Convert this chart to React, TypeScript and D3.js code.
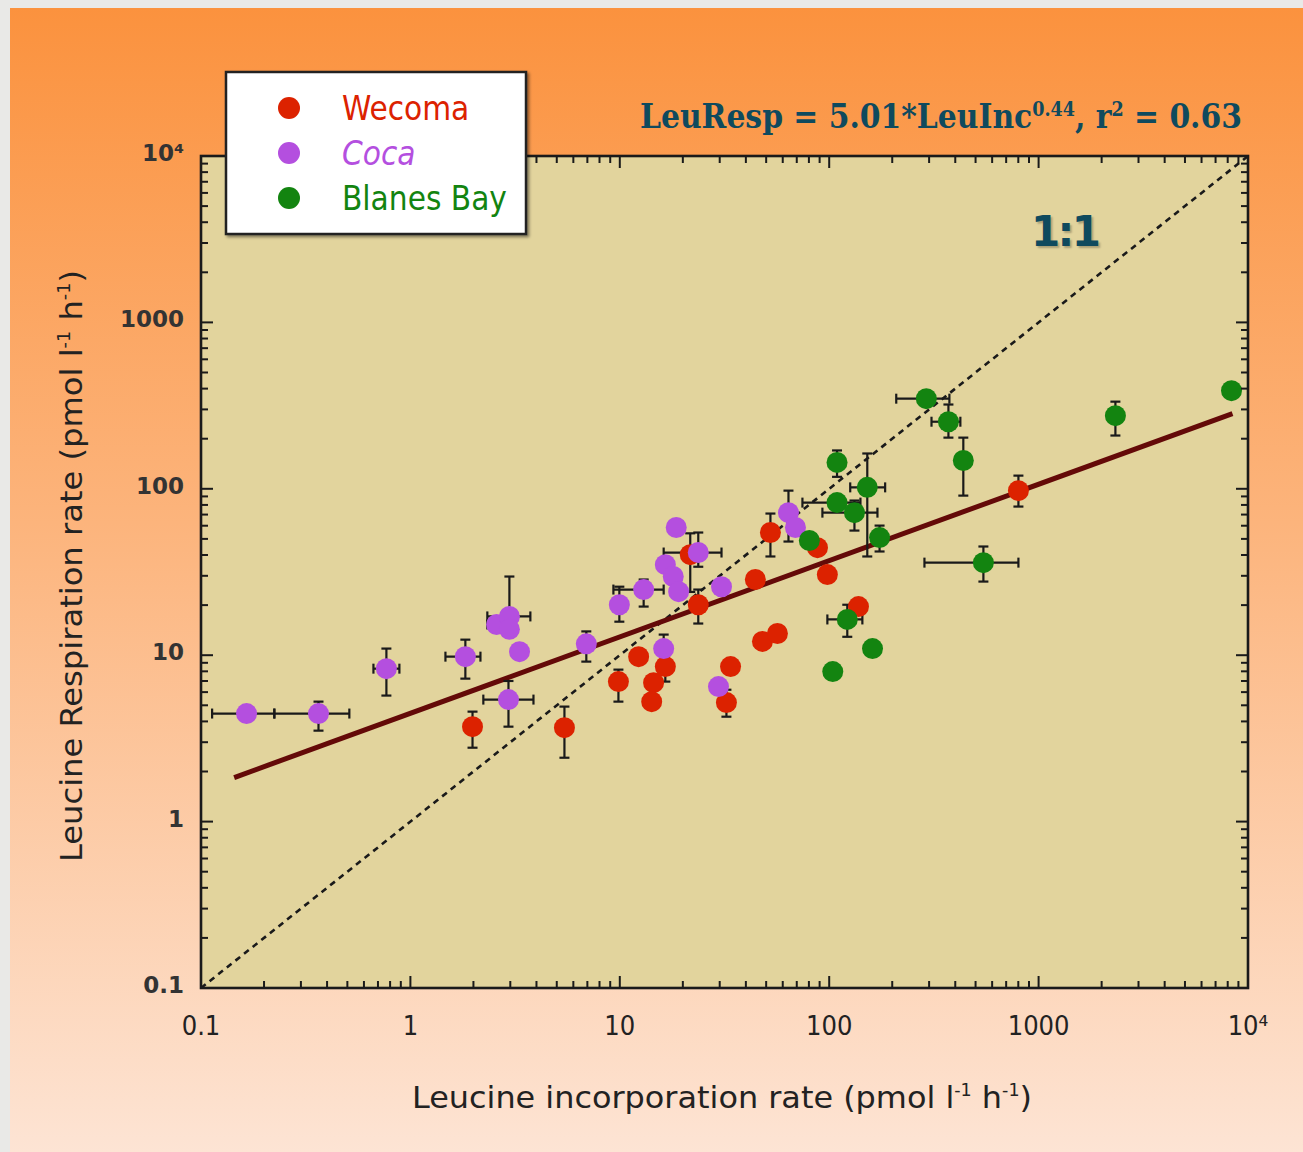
import React from "react";
import * as d3 from "d3";

// series: x = leucine incorporation, y = leucine respiration (pmol l-1 h-1)
// error bars: [lo, hi] or null
type Pt = { x: number; y: number; xe: number[] | null; ye: number[] | null };

const wecomaX = [1.98, 5.44, 9.85, 12.3, 14.5, 14.2, 16.5, 23.7, 21.7, 33.8, 32.3, 48.0, 56.6, 44.4, 52.4, 87.9, 98.0, 138, 801];
const wecomaY = [3.72, 3.67, 6.94, 9.8, 6.84, 5.26, 8.54, 20.1, 40.2, 8.54, 5.19, 12.1, 13.5, 28.5, 54.6, 44.3, 30.5, 19.6, 97.5];
const wecomaXErr = [null, null, null, null, null, null, null, null, null, null, null, null, null, null, null, null, null, null, null];
const wecomaYErr = [[2.78, 4.58], [2.42, 4.91], [5.26, 8.19], null, null, null, [6.94, 10], [15.5, 24.8], [24, 54], null, [4.27, 6.2], null, null, null, [39.2, 71.0], null, null, null, [78.2, 120]];

const cocaX = [0.165, 0.364, 0.768, 1.83, 2.58, 2.97, 2.97, 3.32, 2.94, 6.92, 9.95, 13.0, 18.6, 16.5, 18.0, 19.1, 23.7, 30.6, 16.2, 29.6, 63.9, 69.0];
const cocaY = [4.46, 4.46, 8.3, 9.8, 15.3, 17.1, 14.3, 10.5, 5.41, 11.7, 20.1, 24.8, 58.5, 35.0, 29.7, 24.1, 41.4, 25.8, 10.96, 6.48, 71.9, 58.5];
const cocaXErr = [[0.113, 0.224], [0.224, 0.511], [0.666, 0.886], [1.47, 2.16], [2.33, 2.8], [2.33, 3.74], null, null, [2.23, 3.87], null, null, [9.32, 16.2], null, null, null, null, [16.2, 30.6], null, null, null, null, null];
const cocaYErr = [null, [3.52, 5.26], [5.72, 10.96], [7.23, 12.4], null, [13, 29.7], null, null, [3.72, 7.0], [9.15, 13.9], [15.9, 25.8], [19.6, 28.5], null, null, null, null, [34, 54.6], null, [8.5, 13.3], null, [48.2, 97.5], null];

const blanesX = [291, 371, 437, 109, 152, 109, 132, 80.4, 174, 545, 122, 161, 104, 2327, 8340];
const blanesY = [348, 253, 148, 144, 102, 82.6, 71.9, 48.9, 50.9, 36.0, 16.4, 10.96, 7.97, 275, 389];
const blanesXErr = [[209, 375], [308, 423], null, null, [126, 185], [74.5, 141], [92.8, 170], null, null, [285, 801], [98, 144], null, null, null, null];
const blanesYErr = [null, [203, 321], [91, 203], [118, 170], [39.2, 163], null, [56.1, 85], null, [42.0, 60.1], [27.7, 45], [12.9, 20.1], null, null, [209, 334], null];

const seriesNames = ["Wecoma", "Coca", "Blanes Bay"];
const seriesColors = ["#dc2200", "#b44fdf", "#138410"];

// fitted power law, drawn between these ends
const fitX = [0.144, 8430];
const fitY = [1.84, 283];

const xTicks = [0.1, 1, 10, 100, 1000, 10000];
const xTickLabels = ["0.1", "1", "10", "100", "1000", "10⁴"];
const yTicks = [0.1, 1, 10, 100, 1000, 10000];
const yTickLabels = ["0.1", "1", "10", "100", "1000", "10⁴"];

const W = 1303, H = 1152;
const left = 201, right = 1248, top = 156, bottom = 988;

const build = (xs: number[], ys: number[], xe: any[], ye: any[]): Pt[] =>
  xs.map((x, i) => ({ x, y: ys[i], xe: xe[i], ye: ye[i] }));

const series = [
  build(wecomaX, wecomaY, wecomaXErr, wecomaYErr),
  build(cocaX, cocaY, cocaXErr, cocaYErr),
  build(blanesX, blanesY, blanesXErr, blanesYErr),
];

export default function App() {
  const x = d3.scaleLog().domain([0.1, 10000]).range([left, right]);
  const y = d3.scaleLog().domain([0.1, 10000]).range([bottom, top]);

  // minor ticks for each decade
  const minors: number[] = [];
  for (let d = 0.1; d < 10000; d *= 10) for (let k = 2; k <= 9; k++) minors.push(+(d * k).toPrecision(3));

  const cap = 5;
  const r = 10.5;
  const ink = "#1a1a1a";
  const title = "#0f4a5e";
  const cond = "'DejaVu Sans Condensed', 'DejaVu Sans', sans-serif";

  return (
    <svg width={W} height={H} style={{ position: "absolute", left: 0, top: 0 }}>
      <defs>
        <linearGradient id="bg" x1="0" y1="0" x2="0" y2="1">
          <stop offset="0%" stopColor="#fb923e" />
          <stop offset="45%" stopColor="#fcb47c" />
          <stop offset="100%" stopColor="#fde4d4" />
        </linearGradient>
        <filter id="sh" x="-10%" y="-10%" width="130%" height="130%">
          <feDropShadow dx="2" dy="2" stdDeviation="1.5" floodColor="#000" floodOpacity="0.45" />
        </filter>
      </defs>
      <rect width={W} height={H} fill="#e9e9e7" />
      <rect x={10} y={8} width={W - 10} height={H - 8} fill="url(#bg)" />

      {/* plot area */}
      <rect x={left} y={top} width={right - left} height={bottom - top} fill="#e2d49d" />

      {/* 1:1 line */}
      <line x1={x(0.1)} y1={y(0.1)} x2={x(10000)} y2={y(10000)} stroke={ink} strokeWidth={2.6} strokeDasharray="6 5" />

      {/* regression */}
      <line x1={x(fitX[0])} y1={y(fitY[0])} x2={x(fitX[1])} y2={y(fitY[1])} stroke="#640a08" strokeWidth={5} />

      {/* error bars */}
      {series.map((s, si) => (
        <g key={"e" + si} stroke={ink} strokeWidth={2.2}>
          {s.map((p, i) => (
            <g key={i}>
              {p.xe && (
                <>
                  <line x1={x(p.xe[0])} x2={x(p.xe[1])} y1={y(p.y)} y2={y(p.y)} />
                  <line x1={x(p.xe[0])} x2={x(p.xe[0])} y1={y(p.y) - cap} y2={y(p.y) + cap} />
                  <line x1={x(p.xe[1])} x2={x(p.xe[1])} y1={y(p.y) - cap} y2={y(p.y) + cap} />
                </>
              )}
              {p.ye && (
                <>
                  <line x1={x(p.x)} x2={x(p.x)} y1={y(p.ye[0])} y2={y(p.ye[1])} />
                  <line x1={x(p.x) - cap} x2={x(p.x) + cap} y1={y(p.ye[0])} y2={y(p.ye[0])} />
                  <line x1={x(p.x) - cap} x2={x(p.x) + cap} y1={y(p.ye[1])} y2={y(p.ye[1])} />
                </>
              )}
            </g>
          ))}
        </g>
      ))}

      {/* points */}
      {series.map((s, si) => (
        <g key={"p" + si} fill={seriesColors[si]}>
          {s.map((p, i) => (
            <circle key={i} cx={x(p.x)} cy={y(p.y)} r={r} />
          ))}
        </g>
      ))}

      {/* ticks on all four sides */}
      <g stroke={ink} strokeWidth={2}>
        {xTicks.map((t) => (
          <g key={"xt" + t}>
            <line x1={x(t)} x2={x(t)} y1={bottom} y2={bottom - 12} />
            <line x1={x(t)} x2={x(t)} y1={top} y2={top + 12} />
          </g>
        ))}
        {minors.map((t) => (
          <g key={"xm" + t}>
            <line x1={x(t)} x2={x(t)} y1={bottom} y2={bottom - 7} />
            <line x1={x(t)} x2={x(t)} y1={top} y2={top + 7} />
          </g>
        ))}
        {yTicks.map((t) => (
          <g key={"yt" + t}>
            <line x1={left} x2={left + 12} y1={y(t)} y2={y(t)} />
            <line x1={right} x2={right - 12} y1={y(t)} y2={y(t)} />
          </g>
        ))}
        {minors.map((t) => (
          <g key={"ym" + t}>
            <line x1={left} x2={left + 7} y1={y(t)} y2={y(t)} />
            <line x1={right} x2={right - 7} y1={y(t)} y2={y(t)} />
          </g>
        ))}
      </g>
      <rect x={left} y={top} width={right - left} height={bottom - top} fill="none" stroke={ink} strokeWidth={2.6} />

      {/* tick labels */}
      <g fontFamily={cond} fontSize={27} fill="#222">
        {xTicks.map((t, i) => (
          <text key={"xl" + t} x={x(t)} y={1035} textAnchor="middle">{xTickLabels[i]}</text>
        ))}
      </g>
      <g fontFamily="'DejaVu Sans', sans-serif" fontSize={23} fill="#333" fontWeight={600}>
        {yTicks.map((t, i) => (
          <text key={"yl" + t} x={184} y={y(t) + 5} textAnchor="end">{yTickLabels[i]}</text>
        ))}
      </g>

      {/* axis titles */}
      <text x={722} y={1108} textAnchor="middle" fontFamily={cond} fontSize={31} fill="#222" textLength={620} lengthAdjust="spacingAndGlyphs">
        Leucine incorporation rate (pmol l<tspan dy={-12} fontSize={17}>-1</tspan><tspan dy={12}> h</tspan><tspan dy={-12} fontSize={17}>-1</tspan><tspan dy={12}>)</tspan>
      </text>
      <text transform="translate(82,566) rotate(-90)" textAnchor="middle" fontFamily={cond} fontSize={31} fill="#222" textLength={592} lengthAdjust="spacingAndGlyphs">
        Leucine Respiration rate (pmol l<tspan dy={-12} fontSize={17}>-1</tspan><tspan dy={12}> h</tspan><tspan dy={-12} fontSize={17}>-1</tspan><tspan dy={12}>)</tspan>
      </text>

      {/* equation */}
      <text x={640} y={128} fontFamily="'DejaVu Serif Condensed', 'Liberation Serif', serif" fontWeight="bold" fontSize={34} fill={title} textLength={602} lengthAdjust="spacingAndGlyphs">
        LeuResp = 5.01*LeuInc<tspan dy={-12} fontSize={20}>0.44</tspan><tspan dy={12}>, r</tspan><tspan dy={-12} fontSize={20}>2</tspan><tspan dy={12}> = 0.63</tspan>
      </text>
      <text x={1031} y={246} fontFamily="'DejaVu Sans', sans-serif" fontWeight="bold" fontSize={42} fill={title} textLength={70} style={{ textShadow: "2px 2px 2px rgba(0,0,0,0.25)" }}>
        1:1
      </text>

      {/* legend */}
      <rect x={226} y={72} width={300} height={162} fill="#fff" stroke="#222" strokeWidth={2.5} filter="url(#sh)" />
      {seriesNames.map((n, i) => (
        <g key={n}>
          <circle cx={289} cy={108 + i * 45} r={11} fill={seriesColors[i]} />
          <text x={342} y={120 + i * 45} fontFamily={cond} fontSize={33} fill={seriesColors[i]} fontStyle={i === 1 ? "italic" : "normal"}>
            {n}
          </text>
        </g>
      ))}
    </svg>
  );
}
